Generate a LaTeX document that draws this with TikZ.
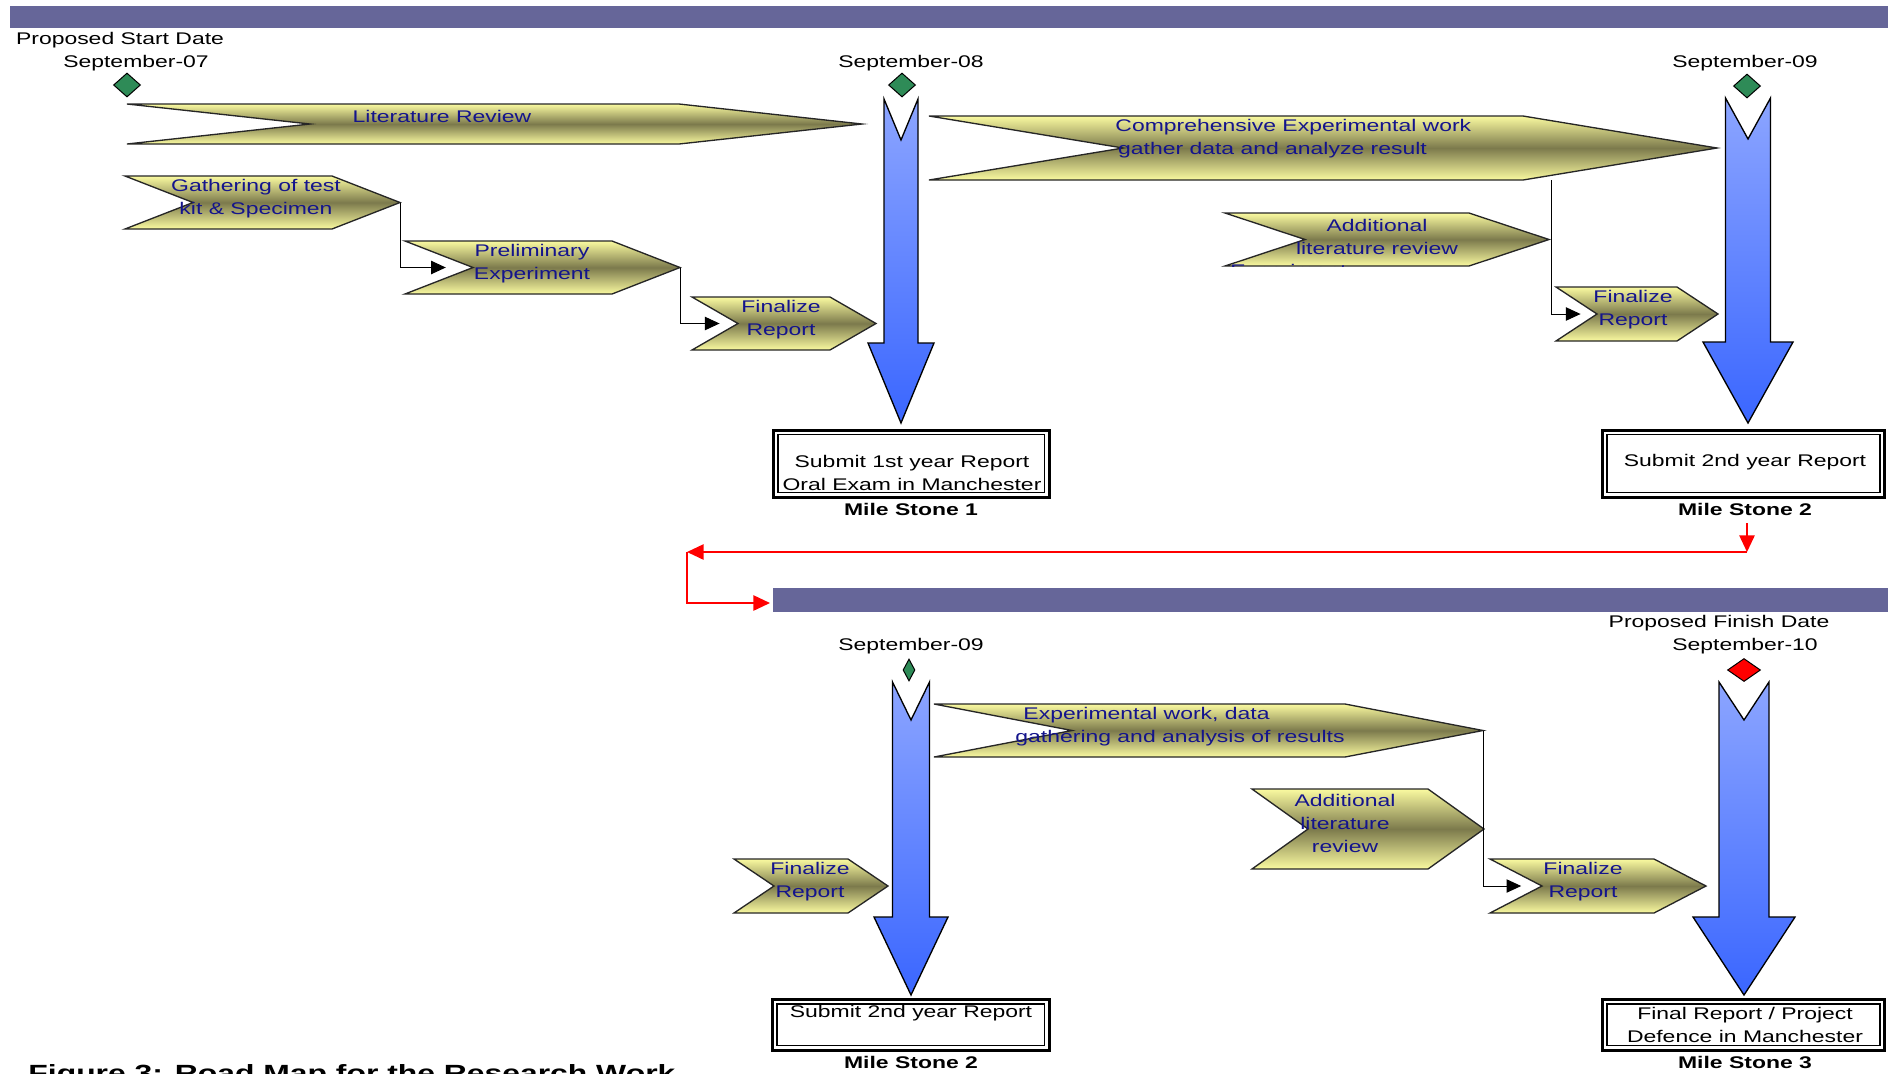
\documentclass[tikz,border=0pt]{standalone}
\usepackage{fontspec}
\setmainfont{Liberation Sans}[FakeStretch=1.36]
\usepackage{xcolor}
\usepackage{tikz}
\usetikzlibrary{shapes.geometric,arrows.meta}
\definecolor{barblue}{RGB}{102,102,153}
\definecolor{chevlight}{RGB}{250,250,160}
\definecolor{chevdark}{RGB}{124,122,76}
\definecolor{chevtext}{RGB}{20,20,140}
\definecolor{arrlight}{RGB}{140,165,255}
\definecolor{arrdark}{RGB}{58,102,255}
\definecolor{msgreen}{RGB}{46,139,87}
\newcommand{\lbl}{\fontsize{7.2}{9.8}\selectfont}
\newcommand{\capfont}{\fontsize{10}{11}\selectfont}
\newcommand{\chev}[6]{%
\draw[chevron] (#2,#4) -- ({#3-#6},#4) -- (#3,{(#4+#5)/2}) -- ({#3-#6},#5) -- (#2,#5) -- ({#2+#6},{(#4+#5)/2}) -- cycle;
\coordinate (#1-tip) at (#3,{(#4+#5)/2});
\coordinate (#1-in) at ({#2+0.6*#6},{(#4+#5)/2});}
\newcommand{\blarrow}[7]{%
\draw[bluearrow] ({#1-#6},#2) -- (#1,#3) -- ({#1+#6},#2) -- ({#1+#6},#4) -- ({#1+#7},#4) -- (#1,#5) -- ({#1-#7},#4) -- ({#1-#6},#4) -- cycle;}
\newcommand{\msbox}[4]{%
\draw[line width=0.45mm] (#1,#2) rectangle (#3,#4);
\draw[line width=0.22mm] ({#1+4.5},{#2+4.5}) rectangle ({#3-4.5},{#4-4.5});}

\begin{document}
\begin{tikzpicture}[x=0.15mm,y=-0.15mm,
  chevron/.style={draw=black!85,line width=0.2mm,top color=chevlight,bottom color=chevlight,middle color=chevdark},
  bluearrow/.style={draw=black,line width=0.2mm,top color=arrlight,bottom color=arrdark},
  ctext/.style={text=chevtext,align=center,inner sep=0pt,font=\lbl},
  btext/.style={align=center,inner sep=0pt,font=\lbl},
  mstone/.style={inner sep=0pt,font=\lbl\bfseries},
  gem/.style={diamond,draw=black,line width=0.15mm,fill=msgreen,inner sep=0pt},
  conn/.style={line width=0.15mm,>={Triangle[length=2.2mm,width=2mm]},->},
  redconn/.style={red,line width=0.25mm,>={Triangle[length=2.5mm,width=2.3mm]},->}]
\useasboundingbox (0,0) rectangle (1888,1073);
\fill[barblue] (10,6) rectangle (1888,28);
\fill[barblue] (773,588) rectangle (1888,612);

\node[btext] (startlbl) at (120,40) {Proposed Start Date};
\node[btext] (sep07) at (136,63) {September-07};
\node[btext] (sep08) at (911,63) {September-08};
\node[btext] (sep09a) at (1745,63) {September-09};
\node[gem,minimum width=4.05mm,minimum height=3.6mm] (gem07) at (127,85) {};
\node[gem,minimum width=4.05mm,minimum height=3.6mm] (gem08) at (902,85) {};
\node[gem,minimum width=4.05mm,minimum height=3.6mm] (gem09a) at (1747,86) {};

\chev{lit}{127}{862}{104}{144}{183}
\chev{gath}{125}{400}{176}{229}{68}
\chev{prel}{405}{680}{241}{294}{68}
\chev{finA}{692}{876}{297}{350}{46}
\chev{comp}{929}{1717}{116}{180}{194}
\chev{addA}{1225}{1549}{213}{266}{80}
\chev{finB}{1556}{1718}{287}{341}{41}
\node[ctext] (littxt) at (442,116) {Literature Review};
\node[ctext] (gathtxt) at (256,199) {Gathering of test\\kit \& Specimen};
\node[ctext] (preltxt) at (532,264) {Preliminary\\Experiment};
\node[ctext] (finAtxt) at (781,320) {Finalize\\Report};
\node[ctext,align=left,anchor=west] (comptxt) at (1115,139) {Comprehensive Experimental work\\\hspace{0.4mm}gather data and analyze result};
\node[ctext] (addAtxt) at (1377,237) {Additional\\literature review};
\begin{scope}
\clip (1200,200) rectangle (1560,266);
\node[ctext,anchor=base west] (addAcut) at (1230,276) {Experiment};
\end{scope}
\node[ctext] (finBtxt) at (1633,310) {Finalize\\Report};

\blarrow{901}{99}{140}{343}{423}{17}{33}
\blarrow{1748}{98}{139}{342}{423}{22.5}{45}

\draw[conn] (gath-tip) |- (prel-in);
\draw[conn] (prel-tip) |- (finA-in);
\coordinate (comp-out) at (1551,180);
\draw[conn] (comp-out) |- (finB-in);

\msbox{773.5}{430}{1049}{497}
\msbox{1602.5}{430}{1884.5}{497}
\node[btext] (ms1txt) at (912,473) {Submit 1st year Report\\Oral Exam in Manchester};
\node[btext] (ms2txt) at (1745,462) {Submit 2nd year Report};
\node[mstone] (ms1) at (911,509) {Mile Stone 1};
\node[mstone] (ms2) at (1745,509) {Mile Stone 2};

\coordinate (ms2-out) at (1747,523);
\coordinate (turnA) at (1747,552);
\coordinate (turnB) at (687,552);
\coordinate (bar2-in) at (770,603);
\draw[redconn] (ms2-out) -- (turnA);
\draw[redconn] (turnA) -- (turnB);
\draw[redconn] (turnB) |- (bar2-in);

\node[btext] (finlbl) at (1719,623) {Proposed Finish Date};
\node[btext] (sep09b) at (911,646) {September-09};
\node[btext] (sep10) at (1745,646) {September-10};
\node[gem,minimum width=1.8mm,minimum height=3.3mm] (gem09b) at (909,670) {};
\node[gem,fill=red,minimum width=4.95mm,minimum height=3.45mm] (gem10) at (1744,670) {};

\chev{expt}{934}{1483}{704}{757}{138}
\chev{addB}{1252}{1484}{789}{869}{56}
\chev{finC}{734}{888}{859}{913}{40}
\chev{finD}{1490}{1706}{859}{913}{52}
\node[ctext,align=left,anchor=west] (expttxt) at (1015,727) {\hspace{1.2mm}Experimental work, data\\gathering and analysis of results};
\node[ctext] (addBtxt) at (1345,823) {Additional\\literature\\review};
\node[ctext] (finCtxt) at (810,882) {Finalize\\Report};
\node[ctext] (finDtxt) at (1583,882) {Finalize\\Report};

\blarrow{911}{682}{720}{917}{995}{18.5}{37}
\blarrow{1744}{682}{720}{917}{995}{25}{51}

\draw[conn] (expt-tip) |- (finD-in);

\msbox{772.5}{999.5}{1049}{1050}
\msbox{1602.5}{999.5}{1884.5}{1050}
\node[btext] (ms3txt) at (911,1013) {Submit 2nd year Report};
\node[btext] (ms4txt) at (1745,1025) {Final Report / Project\\Defence in Manchester};
\node[mstone] (ms3) at (911,1062) {Mile Stone 2};
\node[mstone] (ms4) at (1745,1062) {Mile Stone 3};

\node[font=\capfont\bfseries,anchor=base west,inner sep=0pt] (caption) at (28,1081) {Figure 3: Road Map for the Research Work};
\end{tikzpicture}
\end{document}
